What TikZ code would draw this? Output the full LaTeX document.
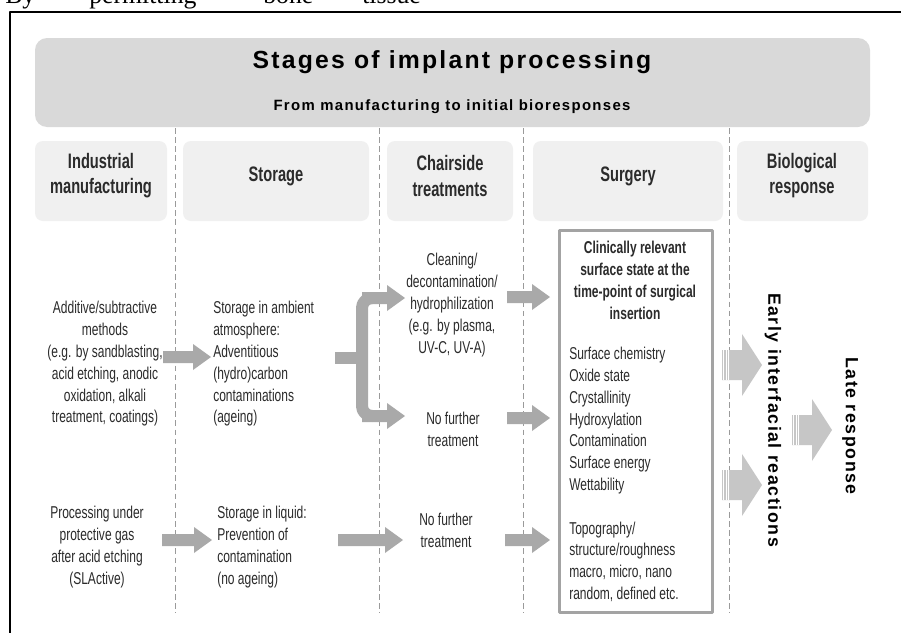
\documentclass[tikz,border=0pt]{standalone}
\usepackage{fontspec}
\setmainfont{Liberation Sans}[FakeStretch=0.7]
\newfontfamily\widefont{Liberation Sans}[LetterSpace=9]
\newfontfamily\pageserif{Liberation Serif}
\usetikzlibrary{calc}

\definecolor{bandgray}{HTML}{D9D9D9}
\definecolor{headgray}{HTML}{F0F0F0}
\definecolor{arrowgray}{HTML}{A9A9A9}
\definecolor{arrowlight}{HTML}{C6C6C6}
\definecolor{dashgray}{HTML}{9A9A9A}
\definecolor{boxgray}{HTML}{A3A3A3}
\definecolor{textgray}{HTML}{2B2B2B}

\tikzset{
	headbox/.style={fill=headgray, rounded corners=0.2cm},
	headtext/.style={font=\fontsize{14.9}{17.8}\selectfont\bfseries, text=textgray, align=center, inner sep=0pt},
	bodytext/.style={font=\fontsize{12.2}{15.5}\selectfont, text=textgray, inner sep=0pt},
	sepline/.style={draw=dashgray, dash pattern=on 4pt off 2.5pt, line width=0.6pt},
	sidetext/.style={font=\widefont\bfseries\fontsize{12.6}{15}\selectfont, rotate=-90, inner sep=0pt},
}

% small block arrow: tail -> tip
\newcommand{\barrow}[2]{%
	\fill[arrowgray] ($(#1)+(0,6)$) -- ($(#2)+(-18,6)$) -- ($(#2)+(-18,13)$) -- (#2)
		-- ($(#2)+(-18,-13)$) -- ($(#2)+(-18,-6)$) -- ($(#1)+(0,-6)$) -- cycle;
}
% big faded arrow of the last column
\newcommand{\bigarrow}[2]{%
	\fill[arrowlight] ($(#1)+(0,15)$) -- ($(#2)+(-20,15)$) -- ($(#2)+(-20,31)$) -- (#2)
		-- ($(#2)+(-20,-31)$) -- ($(#2)+(-20,-15)$) -- ($(#1)+(0,-15)$) -- cycle;
	\foreach \s in {1.5,4,6.5}
		\draw[white, line width=0.5pt] ($(#1)+(\s,15)$) -- ($(#1)+(\s,-15)$);
}

\begin{document}
\begin{tikzpicture}[x=0.025cm, y=-0.025cm, line join=round]
	\useasboundingbox (0,0) rectangle (901,632);
	\fill[white] (0,0) rectangle (901,632);

	% page text above the frame
	\node[font=\pageserif\fontsize{18.3}{20}\selectfont, anchor=base west, inner sep=0pt] (w1) at (5,3) {By};
	\node[font=\pageserif\fontsize{18.3}{20}\selectfont, anchor=base west, inner sep=0pt] (w2) at (89,3) {permitting};
	\node[font=\pageserif\fontsize{18.3}{20}\selectfont, anchor=base west, inner sep=0pt] (w3) at (263,3) {bone};
	\node[font=\pageserif\fontsize{18.3}{20}\selectfont, anchor=base west, inner sep=0pt] (w4) at (362,3) {tissue};

	% frame
	\draw[line width=0.05cm] (915,12) -- (10,12) -- (10,645);

	% A. Title band
	\fill[bandgray, rounded corners=0.3cm] (35,38) rectangle (870,127);
	\node[font=\widefont\bfseries\fontsize{17.6}{20}\selectfont, anchor=base, inner sep=0pt] (title) at (452,68) {Stages of implant processing};
	\node[font=\widefont\bfseries\fontsize{10.6}{12}\selectfont, anchor=base, inner sep=0pt] (subtitle) at (452,110) {From manufacturing to initial bioresponses};

	% B. Column heads
	\foreach \xa/\xb in {35/167, 183/369, 387/513, 533/723, 737/868}
		\fill[headbox] (\xa,141) rectangle (\xb,221);
	\node[headtext] (hman) at (101,176) {Industrial\\manufacturing};
	\node[headtext] (hsto) at (276,176) {Storage};
	\node[headtext] (hcha) at (450,176) {Chairside\\treatments};
	\node[headtext] (hsur) at (628,176) {Surgery};
	\node[headtext] (hbio) at (802,176) {Biological\\response};

	% C. Separators
	\foreach \x in {175,379,523,729}
		\draw[sepline] (\x,128) -- (\x,613);

	% D. Surgery box
	\draw[draw=boxgray, line width=0.075cm, fill=white] (559,230) rectangle (712,612);

	% E. Texts
	\node[bodytext, align=center] (manA) at (105,364) {Additive/subtractive\\methods\\(e.g. by sandblasting,\\acid etching, anodic\\oxidation, alkali\\treatment, coatings)};
	\node[bodytext, align=center] (manB) at (97,547) {Processing under\\protective gas\\after acid etching\\(SLActive)};
	\node[bodytext, align=left, anchor=west] (stoA) at (213,364) {Storage in ambient\\atmosphere:\\Adventitious\\(hydro)carbon\\contaminations\\(ageing)};
	\node[bodytext, align=left, anchor=west] (stoB) at (217,547) {Storage in liquid:\\Prevention of\\contamination\\(no ageing)};
	\node[bodytext, align=center] (chaA) at (452,305) {Cleaning/\\decontamination/\\hydrophilization\\(e.g. by plasma,\\UV-C, UV-A)};
	\node[bodytext, align=center] (chaB) at (453,429) {No further\\treatment};
	\node[bodytext, align=center] (chaC) at (446,530) {No further\\treatment};
	\node[bodytext, font=\fontsize{12.2}{15.6}\selectfont\bfseries, align=center] (surT) at (635,280) {Clinically relevant\\surface state at the\\time-point of surgical\\insertion};
	\node[bodytext, align=left, anchor=west] (surL) at (569,474.5) {Surface chemistry\\Oxide state\\Crystallinity\\Hydroxylation\\Contamination\\Surface energy\\Wettability\\~\\Topography/\\structure/roughness\\macro, micro, nano\\random, defined etc.};
	\node[sidetext] (early) at (773,420) {Early interfacial reactions};
	\node[sidetext] (late) at (850,426) {Late response};

	% F. Arrows
	\coordinate (a1) at (163,357);  \coordinate (b1) at (211,357);
	\coordinate (a2) at (162,540);  \coordinate (b2) at (212,540);
	\coordinate (a3) at (338,540);  \coordinate (b3) at (403,540);
	\coordinate (a4) at (505,540);  \coordinate (b4) at (550,540);
	\coordinate (a5) at (507,297);  \coordinate (b5) at (550,297);
	\coordinate (a6) at (507,418);  \coordinate (b6) at (550,418);
	\barrow{a1}{b1}
	\barrow{a2}{b2}
	\barrow{a3}{b3}
	\barrow{a4}{b4}
	\barrow{a5}{b5}
	\barrow{a6}{b6}

	% branch out of the storage column
	\coordinate (fork) at (362,358);
	\coordinate (up) at (362,298);
	\coordinate (dn) at (362,416);
	\draw[arrowgray, line width=0.3cm] (335,358) -- (fork);
	\draw[arrowgray, line width=0.3cm, rounded corners=0.25cm] (372,298) -- (up) -- (dn) -- (372,416);
	\barrow{up}{405,298}
	\barrow{dn}{405,416}

	% biological response
	\coordinate (e1) at (722,365);  \coordinate (f1) at (762,365);
	\coordinate (e2) at (722,485);  \coordinate (f2) at (762,485);
	\coordinate (e3) at (792,430);  \coordinate (f3) at (832,430);
	\bigarrow{e1}{f1}
	\bigarrow{e2}{f2}
	\bigarrow{e3}{f3}
\end{tikzpicture}
\end{document}
